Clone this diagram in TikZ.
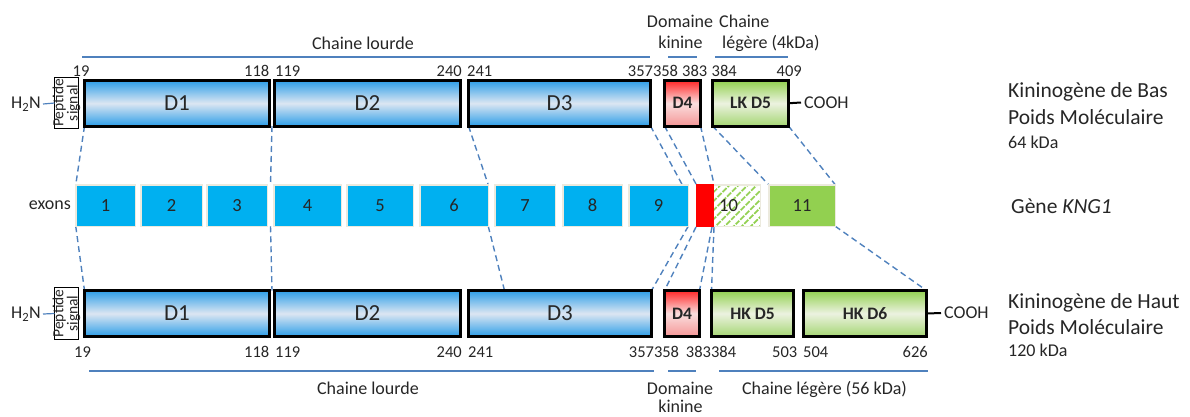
\documentclass[tikz,border=0pt]{standalone}
\usepackage{fontspec}
\setmainfont{Carlito}
\usetikzlibrary{calc,backgrounds,patterns.meta}
\definecolor{txt}{RGB}{38,38,38}
\definecolor{lnblue}{RGB}{79,129,189}
\definecolor{exblue}{RGB}{0,176,240}
\definecolor{exgreen}{RGB}{146,208,80}
\definecolor{exedge}{RGB}{236,234,222}
\definecolor{dblue}{RGB}{45,158,232}
\definecolor{dbluel}{RGB}{220,230,242}
\definecolor{dred}{RGB}{255,40,40}
\definecolor{dredl}{RGB}{250,222,222}
\definecolor{dredb}{RGB}{245,150,150}
\definecolor{dgreen}{RGB}{146,208,80}
\definecolor{dgreenl}{RGB}{236,242,224}
\definecolor{dgreenb}{RGB}{165,214,115}
\begin{document}
\begin{tikzpicture}[x=1pt,y=-1pt,
  every node/.style={text=txt},
  lbl/.style={font=\fontsize{18}{21}\selectfont, inner sep=0pt},
  num/.style={font=\fontsize{16.5}{19}\selectfont, inner sep=0pt},
  rlbl/.style={font=\fontsize{21.5}{25}\selectfont, inner sep=0pt, anchor=base west},
  dombase/.style={draw=black, line width=3pt, inner sep=0pt, outer sep=0pt},
  domblue/.style={dombase, top color=dblue, bottom color=dblue, middle color=dbluel, font=\fontsize{23}{26}\selectfont},
  domred/.style={dombase, top color=dred, bottom color=dredb, middle color=dredl, font=\bfseries\fontsize{17.5}{20}\selectfont},
  domgreen/.style={dombase, top color=dgreen, bottom color=dgreenb, middle color=dgreenl, font=\bfseries\fontsize{17.5}{20}\selectfont},
  exon/.style={draw=exedge, line width=1.5pt, fill=exblue, minimum height=41.5pt, inner sep=0pt, outer sep=0pt, font=\fontsize{18.5}{21}\selectfont},
  pepbox/.style={draw=black, line width=1pt, minimum width=24pt, minimum height=51pt, inner sep=0pt, outer sep=0pt},
  peptxt/.style={font=\fontsize{15.5}{11.5}\selectfont, align=center, inner sep=0pt},
  conn/.style={draw=lnblue, line width=1.4pt, dash pattern=on 6pt off 4pt},
  brk/.style={draw=lnblue, line width=1.2pt},
  tail/.style={draw=black, line width=2pt}
]
\useasboundingbox (0,0) rectangle (1190,416);

% ---------------- top protein (LK) ----------------
\node[pepbox] (pept) at (66.5,103) {};
\node[peptxt, rotate=90] (pepttxt) at (pept.center) {Peptide\\signal};
\node[lbl, anchor=east, inner sep=2pt] (h2nt) at (43,104) {H\textsubscript{2}N};
\draw[brk] (h2nt.east) -- (pept.west);

\node[domblue, minimum width=185pt, minimum height=45.5pt] (d1t) at (177,103.25) {D1};
\node[domblue, minimum width=186pt, minimum height=45.5pt] (d2t) at (367.5,103.25) {D2};
\node[domblue, minimum width=182pt, minimum height=45.5pt] (d3t) at (559.5,103.25) {D3};
\node[domred, minimum width=36pt, minimum height=45.5pt] (d4t) at (682.5,103.25) {D4};
\node[domgreen, minimum width=76pt, minimum height=45.5pt] (d5t) at (750.5,103.25) {LK D5};
\node[lbl, anchor=west, inner sep=3pt] (coohT) at (801,102.5) {COOH};
\draw[tail] (d5t.east) -- (coohT.west);

% numbers top
\node[num, anchor=base west] (nt19) at (72.5,76.5) {19};
\node[num, anchor=base east] (nt118) at (269.5,76.5) {118};
\node[num, anchor=base west] (nt119) at (275,76.5) {119};
\node[num, anchor=base east] (nt240) at (462,76.5) {240};
\node[num, anchor=base west] (nt241) at (467,76.5) {241};
\node[num, anchor=base] (nt357) at (653,76.5) {357358};
\node[num, anchor=base east] (nt383) at (707.5,76.5) {383};
\node[num, anchor=base west] (nt384) at (711.5,76.5) {384};
\node[num, anchor=base east] (nt409) at (802,76.5) {409};

% chain brackets top
\coordinate (tl1) at (82,57); \coordinate (tl2) at (650,57);
\coordinate (tk1) at (668,57); \coordinate (tk2) at (697,57);
\coordinate (tg1) at (715,57); \coordinate (tg2) at (788,57);
\draw[brk] (tl1) -- (tl2);
\draw[brk] (tk1) -- (tk2);
\draw[brk] (tg1) -- (tg2);
\node[lbl, anchor=base] (tclourde) at (363,49) {Chaine lourde};
\node[lbl, anchor=base] (tcdom) at (680,27) {Domaine};
\node[lbl, anchor=base] (tckin) at (680.5,48.5) {kinine};
\node[lbl, anchor=base west] (tcch) at (719,27) {Chaine};
\node[lbl, anchor=base west] (tcleg) at (722,48.5) {légère (4kDa)};

\node[rlbl] (rt1) at (1008,97.5) {Kininogène de Bas};
\node[rlbl] (rt2) at (1008,124) {Poids Moléculaire};
\node[lbl, anchor=base west] (rt3) at (1008,148) {64 kDa};

% ---------------- exons ----------------
\node[exon, minimum width=59.5pt] (e1) at (105.5,205.5) {1};
\node[exon, minimum width=61.5pt] (e2) at (171.5,205.5) {2};
\node[exon, minimum width=60.5pt] (e3) at (237,205.5) {3};
\node[exon, minimum width=67.5pt] (e4) at (307.5,205.5) {4};
\node[exon, minimum width=66.5pt] (e5) at (380,205.5) {5};
\node[exon, minimum width=68.5pt] (e6) at (454,205.5) {6};
\node[exon, minimum width=60.5pt] (e7) at (525,205.5) {7};
\node[exon, minimum width=59.5pt] (e8) at (592.5,205.5) {8};
\node[exon, minimum width=59.5pt] (e9) at (658.5,205.5) {9};
\node[exon, fill=none, pattern={Lines[angle=45,distance=6.5pt,line width=2.2pt]}, pattern color=exgreen, minimum width=63.5pt] (e10) at (728.5,205.5) {10};
\node[fill=red, minimum width=18pt, minimum height=43pt, inner sep=0pt, outer sep=0pt] (kin) at (705,205.5) {};
\node[exon, fill=exgreen, minimum width=66.5pt] (e11) at (802,205.5) {11};
\node[lbl, anchor=east] (exl) at (71,205.5) {exons};
\node[rlbl] (gene) at (1011,213) {Gène \textit{KNG1}};

% ---------------- bottom protein (HK) ----------------
\node[pepbox, minimum height=52pt] (pepb) at (66.5,313.5) {};
\node[peptxt, rotate=90] (pepbtxt) at (pepb.center) {Peptide\\signal};
\node[lbl, anchor=east, inner sep=2pt] (h2nb) at (43,314) {H\textsubscript{2}N};
\draw[brk] (h2nb.east) -- (pepb.west);

\node[domblue, minimum width=185pt, minimum height=46pt] (d1b) at (177,313.5) {D1};
\node[domblue, minimum width=186pt, minimum height=46pt] (d2b) at (367.5,313.5) {D2};
\node[domblue, minimum width=183pt, minimum height=46pt] (d3b) at (560,313.5) {D3};
\node[domred, minimum width=35pt, minimum height=46pt] (d4b) at (682,313.5) {D4};
\node[domgreen, minimum width=82pt, minimum height=46pt] (d5b) at (752.5,313.5) {HK D5};
\node[domgreen, minimum width=123pt, minimum height=46pt] (d6b) at (865,313.5) {HK D6};
\node[lbl, anchor=west, inner sep=3pt] (coohB) at (941,313) {COOH};
\draw[tail] (d6b.east) -- (coohB.west);

% numbers bottom
\node[num, anchor=base west] (nb19) at (74,357) {19};
\node[num, anchor=base east] (nb118) at (269.5,357) {118};
\node[num, anchor=base west] (nb119) at (275,357) {119};
\node[num, anchor=base east] (nb240) at (462,357) {240};
\node[num, anchor=base west] (nb241) at (468,357) {241};
\node[num, anchor=base] (nb357) at (654,357) {357358};
\node[num, anchor=base] (nb383) at (711,357) {383384};
\node[num, anchor=base east] (nb503) at (797.5,357) {503};
\node[num, anchor=base west] (nb504) at (803,357) {504};
\node[num, anchor=base east] (nb626) at (928,357) {626};

% chain brackets bottom
\coordinate (bl1) at (89,371); \coordinate (bl2) at (654,371);
\coordinate (bk1) at (668,371); \coordinate (bk2) at (696,371);
\coordinate (bg1) at (719,371); \coordinate (bg2) at (928,371);
\draw[brk] (bl1) -- (bl2);
\draw[brk] (bk1) -- (bk2);
\draw[brk] (bg1) -- (bg2);
\node[lbl, anchor=base] (bclourde) at (368,394) {Chaine lourde};
\node[lbl, anchor=base] (bcdom) at (680,394) {Domaine};
\node[lbl, anchor=base] (bckin) at (680.5,412.5) {kinine};
\node[lbl, anchor=base] (bcleg) at (824.5,394) {Chaine légère (56 kDa)};

\node[rlbl] (rb1) at (1008,308.5) {Kininogène de Haut};
\node[rlbl] (rb2) at (1008,334) {Poids Moléculaire};
\node[lbl, anchor=base west] (rb3) at (1008,356.5) {120 kDa};

% ---------------- dashed correspondences ----------------
\coordinate (e9in) at ($(e9.north east)+(-6,0)$);
\coordinate (d3in) at ($(d3b.north west)+(36,0)$);
\begin{pgfonlayer}{background}
\draw[conn] (d1t.south west) -- (e1.north west);
\draw[conn] ($(d1t.south east)!0.5!(d2t.south west)$) -- ($(e3.north east)!0.5!(e4.north west)$);
\draw[conn] (d3t.south west) -- (e6.north east);
\draw[conn] (d3t.south east) -- (e9in);
\draw[conn] (d4t.south west) -- (kin.north west);
\draw[conn] (d4t.south east) -- (kin.north east);
\draw[conn] (d5t.south west) -- (e11.north west);
\draw[conn] (d5t.south east) -- (e11.north east);

\draw[conn] (e1.south west) -- (d1b.north west);
\draw[conn] ($(e3.south east)!0.5!(e4.south west)$) -- ($(d1b.north east)!0.5!(d2b.north west)$);
\draw[conn] (e6.south east) -- (d3in);
\draw[conn] (e9.south east) -- (d3b.north east);
\draw[conn] (kin.south west) -- (d4b.north west);
\draw[conn] ($(kin.south east)+(-2,0)$) -- (d4b.north east);
\draw[conn] (kin.south east) -- (d5b.north west);
\draw[conn] (e11.south east) -- (d6b.north east);
\end{pgfonlayer}
\end{tikzpicture}
\end{document}
